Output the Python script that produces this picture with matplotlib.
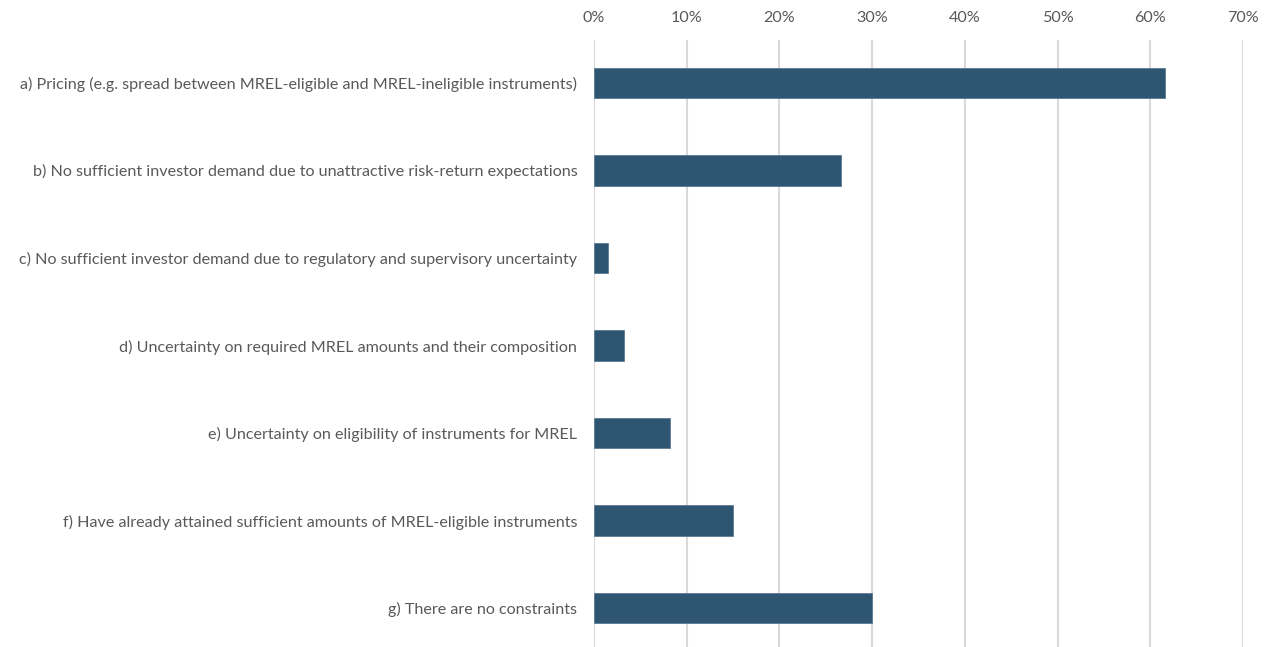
import numpy as np
import matplotlib.pyplot as plt
from matplotlib.ticker import PercentFormatter

labels = [
    "a) Pricing (e.g. spread between MREL-eligible and MREL-ineligible instruments)",
    "b) No sufficient investor demand due to unattractive risk-return expectations",
    "c) No sufficient investor demand due to regulatory and supervisory uncertainty",
    "d) Uncertainty on required MREL amounts and their composition",
    "e) Uncertainty on eligibility of instruments for MREL",
    "f) Have already attained sufficient amounts of MREL-eligible instruments",
    "g) There are no constraints",
]
values = [61.6, 26.6, 1.5, 3.2, 8.2, 15.0, 30.0]

plt.rcParams['font.family'] = ['Lato', 'DejaVu Sans']
text_color = '#595959'

fig = plt.figure(figsize=(12.66, 6.47), dpi=100)
ax = fig.add_axes([594 / 1266, 0.0, (1243 - 594) / 1266, 1 - 40 / 647])

y = np.arange(len(labels))
ax.barh(y, values, height=0.345, color='#2E5571', edgecolor='#5a7a94', linewidth=0.6, zorder=3)

ax.set_xlim(0, 70)
ax.set_ylim(6.446, -0.491)
ax.set_xticks(np.arange(0, 71, 10))
ax.xaxis.set_major_formatter(PercentFormatter(decimals=0))
ax.xaxis.tick_top()
ax.set_yticks(y)
ax.set_yticklabels(labels)
ax.tick_params(axis='x', length=0, pad=11, labelsize=11.6, colors=text_color)
ax.tick_params(axis='y', length=0, pad=12, labelsize=11.6, colors=text_color)
ax.grid(axis='x', color='#d9d9d9', linewidth=1.5, zorder=0)
for s in ax.spines.values():
    s.set_visible(False)

fig.savefig('out.png', dpi=100)
